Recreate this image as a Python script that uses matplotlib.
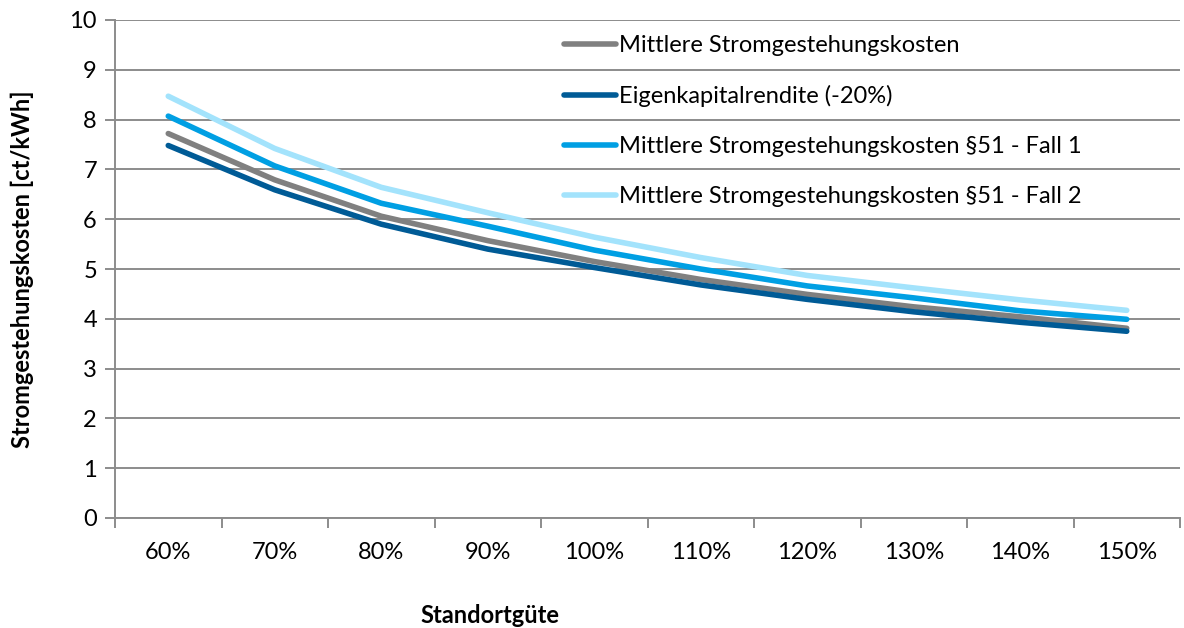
import matplotlib
matplotlib.use("Agg")
import matplotlib.pyplot as plt
import numpy as np

categories = ["60%", "70%", "80%", "90%", "100%", "110%", "120%", "130%", "140%", "150%"]

mittlere = [7.72, 6.79, 6.06, 5.57, 5.15, 4.79, 4.49, 4.24, 4.04, 3.81]
eigenkapital = [7.48, 6.59, 5.90, 5.40, 5.03, 4.68, 4.39, 4.14, 3.93, 3.75]
fall1 = [8.07, 7.07, 6.32, 5.86, 5.38, 5.00, 4.66, 4.42, 4.16, 3.99]
fall2 = [8.47, 7.42, 6.64, 6.13, 5.64, 5.23, 4.87, 4.62, 4.38, 4.17]

series = [
    ("Mittlere Stromgestehungskosten", mittlere, "#808080"),
    ("Eigenkapitalrendite (-20%)", eigenkapital, "#005b96"),
    ("Mittlere Stromgestehungskosten §51 - Fall 1", fall1, "#009fe3"),
    ("Mittlere Stromgestehungskosten §51 - Fall 2", fall2, "#a3e3fc"),
]

plt.rcParams["font.family"] = ["Lato", "DejaVu Sans"]
fs = 17

fig = plt.figure(figsize=(11.84, 6.28), dpi=100)
ax = fig.add_axes([115 / 1184, 1 - 518 / 628, (1180 - 115) / 1184, (518 - 20) / 628])

x = np.arange(len(categories))
handles = []
for label, vals, color in series:
    h, = ax.plot(x, vals, color=color, lw=4.0, solid_capstyle="round",
                 solid_joinstyle="round", label=label, zorder=3)
    handles.append(h)

ax.set_xlim(-0.5, len(categories) - 0.5)
ax.set_ylim(0, 10)
ax.set_yticks(range(0, 11))
ax.set_xticks(x)
ax.set_xticklabels(categories)
ax.set_xticks(np.arange(-0.5, len(categories), 1.0), minor=True)

grid_c = "#8c8c8c"
ax.yaxis.grid(True, color=grid_c, lw=1.4)
ax.set_axisbelow(True)
for s in ["top", "right"]:
    ax.spines[s].set_visible(False)
for s in ["left", "bottom"]:
    ax.spines[s].set_color(grid_c)
    ax.spines[s].set_linewidth(1.4)

ax.tick_params(axis="x", which="major", length=0, pad=17, labelsize=fs)
ax.tick_params(axis="x", which="minor", length=7, width=1.4, color=grid_c)
ax.tick_params(axis="y", length=7, width=1.4, color=grid_c, labelsize=fs, pad=6)

ax.set_ylabel("Stromgestehungskosten [ct/kWh]", fontsize=fs, fontweight="bold")
ax.yaxis.set_label_coords(-0.076, 0.5)
ax.set_xlabel("Standortgüte", fontsize=fs, fontweight="bold")
ax.xaxis.set_label_coords(0.352, -0.172)

leg = ax.legend(handles=handles, loc="upper left", bbox_to_anchor=(0.413, 0.988),
                frameon=False, fontsize=fs, handlelength=2.2, handletextpad=0.12,
                labelspacing=1.22, borderaxespad=0)

fig.savefig("out.png", dpi=100)
